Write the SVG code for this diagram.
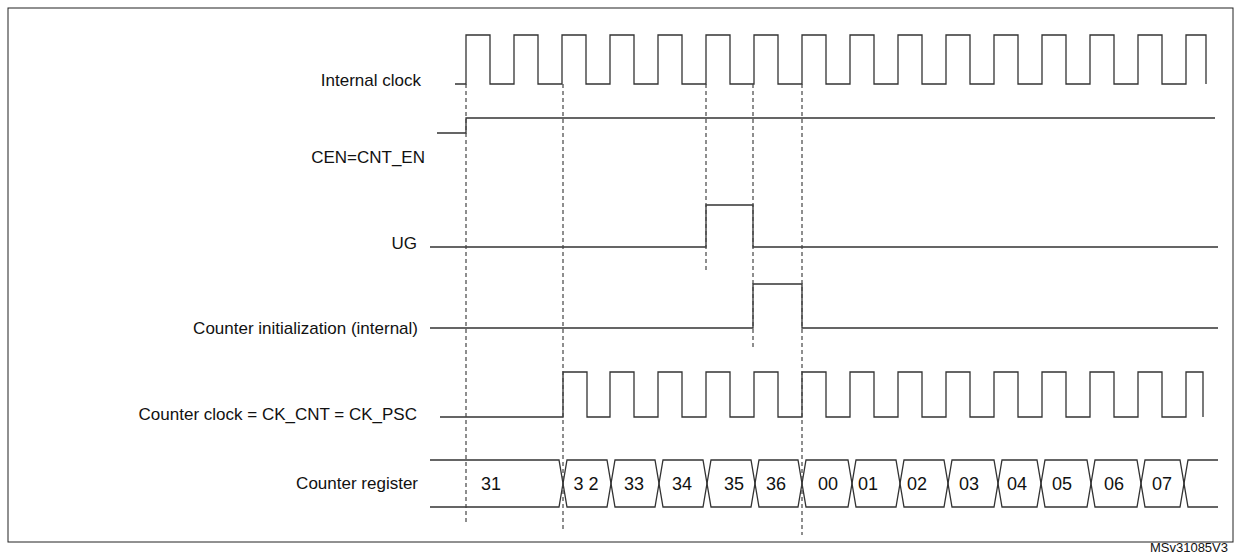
<svg xmlns="http://www.w3.org/2000/svg" width="1241" height="558" viewBox="0 0 1241 558">
<style>
.s{fill:none;stroke:#333;stroke-width:1.3}
.d{fill:none;stroke:#444;stroke-width:1.2;stroke-dasharray:4,3}
text{font-family:"Liberation Sans",Arial,sans-serif;font-size:17px;fill:#111}
.l{text-anchor:end}
.c{text-anchor:middle;font-size:18px}
</style>
<rect x="0" y="0" width="1241" height="558" fill="#fff"/>
<rect x="8" y="8" width="1225" height="534" fill="none" stroke="#222" stroke-width="1"/>
<g id="labels">
<text class="l" x="421" y="86">Internal clock</text>
<text class="l" x="425" y="163">CEN=CNT_EN</text>
<text class="l" x="417" y="249">UG</text>
<text class="l" x="418" y="334">Counter initialization (internal)</text>
<text class="l" x="417" y="420">Counter clock = CK_CNT = CK_PSC</text>
<text class="l" x="418" y="489">Counter register</text>
<text x="1228" y="552" style="font-size:13px;text-anchor:end">MSv31085V3</text>
</g>
<g id="internal-clock"><path class="s" d="M455,84 H466 V35 H490 V84 H514 V35 H538 V84 H562 V35 H586 V84 H610 V35 H634 V84 H658 V35 H682 V84 H706 V35 H730 V84 H754 V35 H778 V84 H802 V35 H826 V84 H850 V35 H874 V84 H898 V35 H922 V84 H946 V35 H970 V84 H994 V35 H1018 V84 H1042 V35 H1066 V84 H1090 V35 H1114 V84 H1138 V35 H1162 V84 H1186 V35 H1206 V84"/></g>
<g id="cen"><path class="s" d="M437,133 H466 V118 H1215"/></g>
<g id="ug"><path class="s" d="M430,247 H706 V205 H753 V247 H1218"/></g>
<g id="counter-init"><path class="s" d="M430,328 H753 V284 H802 V328 H1218"/></g>
<g id="counter-clock"><path class="s" d="M440,417 H563 V372 H587 V417 H610 V372 H634 V417 H658 V372 H682 V417 H706 V372 H730 V417 H754 V372 H778 V417 H802 V372 H826 V417 H850 V372 H874 V417 H898 V372 H922 V417 H946 V372 H970 V417 H994 V372 H1018 V417 H1042 V372 H1066 V417 H1090 V372 H1114 V417 H1138 V372 H1162 V417 H1186 V372 H1203 V417"/></g>
<g id="counter-register">
<path class="s" d="M430,460 H559 L567,507 H607 L615,460 H655 L663,507 H703 L711,460 H751 L759,507 H798 L806,460 H848 L856,507 H896 L904,460 H944 L952,507 H994 L1002,460 H1037 L1045,507 H1087 L1095,460 H1137 L1145,507 H1180 L1188,460 H1218"/>
<path class="s" d="M430,507 H559 L567,460 H607 L615,507 H655 L663,460 H703 L711,507 H751 L759,460 H798 L806,507 H848 L856,460 H896 L904,507 H944 L952,460 H994 L1002,507 H1037 L1045,460 H1087 L1095,507 H1137 L1145,460 H1180 L1188,507 H1218"/>
<text x="491" y="490" class="c">31</text>
<text x="586" y="490" class="c">3 2</text>
<text x="634" y="490" class="c">33</text>
<text x="682" y="490" class="c">34</text>
<text x="734" y="490" class="c">35</text>
<text x="776" y="490" class="c">36</text>
<text x="828" y="490" class="c">00</text>
<text x="868" y="490" class="c">01</text>
<text x="917" y="490" class="c">02</text>
<text x="969" y="490" class="c">03</text>
<text x="1017" y="490" class="c">04</text>
<text x="1062" y="490" class="c">05</text>
<text x="1114" y="490" class="c">06</text>
<text x="1162" y="490" class="c">07</text>
</g>
<g id="connectors">
<path class="d" d="M466,84 V525"/>
<path class="d" d="M563,84 V530"/>
<path class="d" d="M706,84 V270"/>
<path class="d" d="M753,84 V350"/>
<path class="d" d="M802,84 V535"/>
</g>
</svg>
